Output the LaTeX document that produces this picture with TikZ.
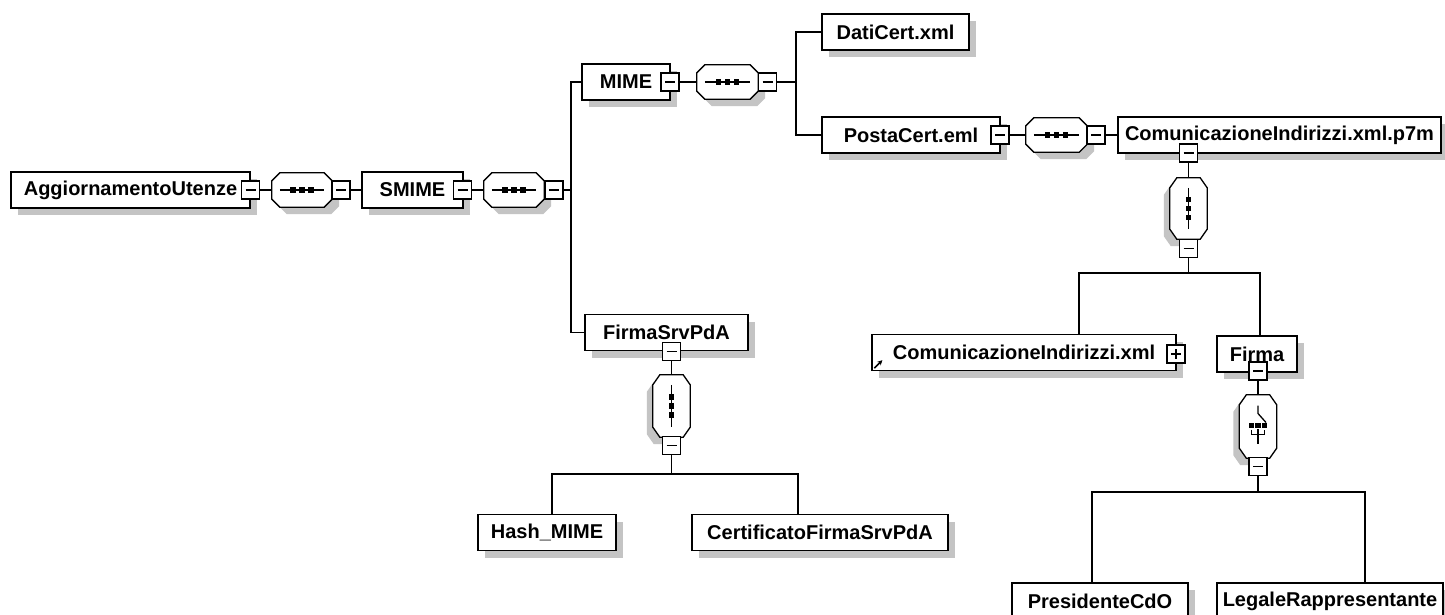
\documentclass[tikz,border=0pt]{standalone}
\usepackage{fontspec}
\setmainfont{Liberation Sans}
\usetikzlibrary{shadows,arrows.meta}
\definecolor{shgray}{RGB}{196,196,196}
\tikzset{
 ln/.style={line width=1.3pt, draw=black},
 elem/.style={ln, fill=white, rectangle, inner sep=0pt, minimum height=36pt,
   font=\bfseries\fontsize{20pt}{24pt}\selectfont,
   general shadow={shadow xshift=7pt, shadow yshift=-7pt, fill=shgray}},
 octnode/.style={rectangle, inner sep=0pt},
 mbox/.style={ln, line width=1.2pt, fill=white, rectangle, inner sep=0pt, minimum size=18pt,
   path picture={\draw[line width=1.2pt] ([xshift=4pt]path picture bounding box.west) -- ([xshift=-4pt]path picture bounding box.east);}},
 pbox/.style={ln, line width=1.2pt, fill=white, rectangle, inner sep=0pt, minimum size=18pt,
   path picture={\draw[line width=1.2pt] ([xshift=4pt]path picture bounding box.west) -- ([xshift=-4pt]path picture bounding box.east);
     \draw[line width=1.2pt] ([yshift=-4pt]path picture bounding box.north) -- ([yshift=4pt]path picture bounding box.south);}},
 icon/.style={line width=1.3pt},
}
\begin{document}
\begin{tikzpicture}[x=1pt,y=-1pt]
\useasboundingbox[fill=white] (0,0) rectangle (1445,614);

% elements
\node[elem, minimum width=239pt] (au) at (130.5,190) {AggiornamentoUtenze};
\node[elem, minimum width=101pt] (smime) at (412.5,190) {SMIME};
\node[elem, minimum width=88pt] (mime) at (626,82) {MIME};
\node[elem, minimum width=147pt] (dati) at (895.5,32) {DatiCert.xml};
\node[elem, minimum width=178pt] (posta) at (911,135) {PostaCert.eml};
\node[elem, minimum width=323pt] (cip) at (1279.5,135) {ComunicazioneIndirizzi.xml.p7m};
\node[elem, minimum width=304pt] (cix) at (1024,352.5) {ComunicazioneIndirizzi.xml};
\node[elem, minimum width=80pt] (firma) at (1257,354) {Firma};
\node[elem, minimum width=176pt] (pres) at (1100,601) {PresidenteCdO};
\node[elem, minimum width=226pt] (legale) at (1330,601) {LegaleRappresentante};
\node[elem, minimum width=163pt] (fsrv) at (666.5,332.5) {FirmaSrvPdA};
\node[elem, minimum width=138pt] (hash) at (547,532.5) {Hash\_MIME};
\node[elem, minimum width=256pt] (cert) at (820,532.5) {CertificatoFirmaSrvPdA};

% compositor nodes (octagons)
\node[octnode, minimum width=60pt, minimum height=34pt] (o1) at (302,190) {};
\node[octnode, minimum width=60pt, minimum height=34pt] (o2) at (514,190) {};
\node[octnode, minimum width=61pt, minimum height=34pt] (o3) at (727.5,82) {};
\node[octnode, minimum width=61pt, minimum height=34pt] (o4) at (1056.5,135) {};
\node[octnode, minimum width=37pt, minimum height=61pt] (o5) at (1188.5,208.5) {};
\node[octnode, minimum width=37pt, minimum height=63pt] (o6) at (1258,426.5) {};
\node[octnode, minimum width=37pt, minimum height=62pt] (o7) at (671.5,406) {};

\foreach \n in {o1,o2,o3,o4}{
  \fill[shgray] ([xshift=15pt,yshift=-7pt]\n.north west) -- ([xshift=-1pt,yshift=-7pt]\n.north east)
    -- ([xshift=7pt,yshift=-15pt]\n.north east) -- ([xshift=7pt,yshift=1pt]\n.south east)
    -- ([xshift=-1pt,yshift=-7pt]\n.south east) -- ([xshift=15pt,yshift=-7pt]\n.south west)
    -- ([xshift=7pt,yshift=1pt]\n.south west) -- ([xshift=7pt,yshift=-15pt]\n.north west) -- cycle;
  \draw[ln, fill=white] ([xshift=8pt]\n.north west) -- ([xshift=-8pt]\n.north east)
    -- ([yshift=-8pt]\n.north east) -- ([yshift=8pt]\n.south east)
    -- ([xshift=-8pt]\n.south east) -- ([xshift=8pt]\n.south west)
    -- ([yshift=8pt]\n.south west) -- ([yshift=-8pt]\n.north west) -- cycle;
  \draw[ln] ([xshift=8pt]\n.west) -- ([xshift=-8pt]\n.east);
  \foreach \d in {-9,0,9} \fill ([xshift=\d pt]\n.center) +(-2.7,-2.7) rectangle +(2.7,2.7);
}
\foreach \n in {o5,o6,o7}{
  \fill[shgray] ([xshift=1pt,yshift=-7pt]\n.north west) -- ([xshift=-13pt,yshift=-7pt]\n.north east)
    -- ([xshift=-6pt,yshift=-17pt]\n.north east) -- ([xshift=-6pt,yshift=3pt]\n.south east)
    -- ([xshift=-13pt,yshift=-7pt]\n.south east) -- ([xshift=1pt,yshift=-7pt]\n.south west)
    -- ([xshift=-6pt,yshift=3pt]\n.south west) -- ([xshift=-6pt,yshift=-17pt]\n.north west) -- cycle;
  \draw[ln, fill=white] ([xshift=7pt]\n.north west) -- ([xshift=-7pt]\n.north east)
    -- ([yshift=-10pt]\n.north east) -- ([yshift=10pt]\n.south east)
    -- ([xshift=-7pt]\n.south east) -- ([xshift=7pt]\n.south west)
    -- ([yshift=10pt]\n.south west) -- ([yshift=-10pt]\n.north west) -- cycle;
}
\foreach \n in {o5,o7}{
  \draw[ln] ([yshift=-10pt]\n.north) -- ([yshift=10pt]\n.south);
  \foreach \d in {-9,0,9} \fill ([yshift=\d pt]\n.center) +(-2.7,-2.7) rectangle +(2.7,2.7);
}
% choice icon
\draw[icon] ([yshift=21pt]o6.center) -- ([yshift=13pt]o6.center) -- ([xshift=8pt,yshift=4pt]o6.center);
\foreach \d in {-6.5,0,6.5} \fill ([xshift=\d pt,yshift=1pt]o6.center) +(-2.6,-2.6) rectangle +(2.6,2.6);
\draw[icon] ([xshift=-6.5pt,yshift=-3pt]o6.center) -- ([xshift=-6.5pt,yshift=-8pt]o6.center)
  -- ([xshift=6.5pt,yshift=-8pt]o6.center) -- ([xshift=6.5pt,yshift=-3pt]o6.center);
\draw[icon] ([yshift=-2.5pt]o6.center) -- ([yshift=-17pt]o6.center);

% expand/collapse boxes
\node[mbox] (mAU) at (250.5,190) {};
\node[mbox] (m1) at (341,190) {};
\node[mbox] (mS) at (462.5,190) {};
\node[mbox] (m2) at (554,190) {};
\node[mbox] (mM) at (670,82) {};
\node[mbox] (m3) at (767.5,82) {};
\node[mbox] (mP) at (1000,135) {};
\node[mbox] (m4) at (1096,135) {};
\node[mbox] (mC) at (1188.5,153) {};
\node[mbox] (m5) at (1188.5,248.5) {};
\node[pbox] (pX) at (1176,354) {};
\node[mbox] (mF) at (1258,371) {};
\node[mbox] (m6) at (1258,466.5) {};
\node[mbox] (mFS) at (671.5,351.5) {};
\node[mbox] (m7) at (671.5,445.5) {};

% reference arrow
\draw[line width=1.6pt, -{Stealth[length=5pt,width=5pt]}] ([xshift=3pt,yshift=3pt]cix.south west) -- ++(8,-8);

% bus coordinates
\coordinate (bus2) at (571,190);
\coordinate (bus3) at (796,82);
\coordinate (bus5) at (1188.5,273);
\coordinate (bus6) at (1258,492);
\coordinate (bus7) at (671.5,474);

% connectors
\draw[ln] (mAU) -- (o1);
\draw[ln] (m1) -- (smime);
\draw[ln] (mS) -- (o2);
\draw[ln] (m2) -- (bus2);
\draw[ln] (mime.west) -| (bus2) |- (fsrv.west);
\draw[ln] (mM) -- (o3);
\draw[ln] (m3) -- (bus3);
\draw[ln] (dati.west) -| (bus3) |- (posta.west);
\draw[ln] (mP) -- (o4);
\draw[ln] (m4) -- (cip);
\draw[ln] (mC) -- (o5);
\draw[ln] (m5) -- (bus5);
\draw[ln] ([xshift=55pt]cix.north) |- (bus5) -| ([xshift=3pt]firma.north);
\draw[ln] (mF) -- (o6);
\draw[ln] (m6) -- (bus6);
\draw[ln] ([xshift=-8pt]pres.north) |- (bus6) -| ([xshift=35pt]legale.north);
\draw[ln] (mFS) -- (o7);
\draw[ln] (m7) -- (bus7);
\draw[ln] ([xshift=5pt]hash.north) |- (bus7) -| ([xshift=-22pt]cert.north);
\end{tikzpicture}
\end{document}
